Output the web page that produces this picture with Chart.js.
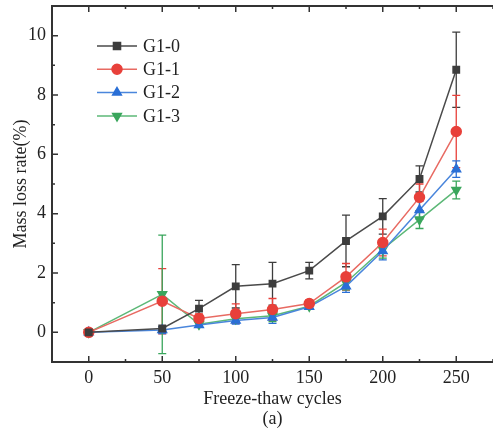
<!DOCTYPE html>
<html>
<head>
<meta charset="utf-8">
<script src="https://cdn.jsdelivr.net/npm/chart.js@4.4.1/dist/chart.umd.min.js"></script>
<style>
  html, body { margin: 0; padding: 0; background: #fff; }
  #wrap { width: 493px; height: 437px; }
</style>
</head>
<body>
<div id="wrap"><canvas id="chart"></canvas></div>
<script>
// cycles
const cycles = [0, 50, 75, 100, 125, 150, 175, 200, 225, 250];

// mass loss rate (%) and error
const g10 = [0, 0.13, 0.8, 1.55, 1.64, 2.08, 3.08, 3.91, 5.17, 8.85];
const g10Err = [0.02, 0.05, 0.28, 0.73, 0.72, 0.28, 0.87, 0.6, 0.44, 1.27];
const g11 = [0, 1.05, 0.47, 0.63, 0.77, 0.97, 1.87, 3.03, 4.55, 6.77];
const g11Err = [0.02, 1.1, 0.15, 0.33, 0.37, 0.12, 0.45, 0.45, 0.45, 1.22];
const g12 = [0, 0.08, 0.25, 0.4, 0.5, 0.86, 1.55, 2.74, 4.12, 5.5];
const g12Err = [0.02, 0.12, 0.08, 0.12, 0.2, 0.08, 0.2, 0.3, 0.3, 0.28];
const g13 = [0, 1.28, 0.27, 0.46, 0.56, 0.88, 1.68, 2.8, 3.8, 4.8];
const g13Err = [0.02, 2.0, 0.1, 0.12, 0.2, 0.08, 0.25, 0.3, 0.3, 0.3];

const xTicks = [0, 50, 100, 150, 200, 250];
const xMinor = [-25, 25, 75, 125, 175, 225, 275];
const yTicks = [0, 2, 4, 6, 8, 10];
const yMinor = [1, 3, 5, 7, 9];

const seriesNames = ["G1-0", "G1-1", "G1-2", "G1-3"];
const colors = ["#3d3d3d", "#e8403a", "#2a6fd6", "#3aa65c"];
const lineColors = ["#4a4a4a", "#e86a62", "#4a86dc", "#5cb877"];
const shapes = ["rect", "circle", "triangle", "triangle"];
const rotations = [0, 0, 0, 180];
const values = [g10, g11, g12, g13];
const errors = [g10Err, g11Err, g12Err, g13Err];

const serif = "'Liberation Serif', 'DejaVu Serif', serif";

// error bars from scales
const errorBars = {
  id: "errorBars",
  beforeDatasetsDraw(chart) {
    const ctx = chart.ctx;
    const xs = chart.scales.x;
    const ys = chart.scales.y;
    ctx.save();
    chart.data.datasets.forEach((ds, i) => {
      const err = errors[i];
      ctx.strokeStyle = colors[i];
      ctx.lineWidth = 1.3;
      ds.data.forEach((p, j) => {
        if (err[j] < 0.05) return;
        const px = xs.getPixelForValue(p.x);
        const top = ys.getPixelForValue(p.y + err[j]);
        const bot = ys.getPixelForValue(p.y - err[j]);
        ctx.beginPath();
        ctx.moveTo(px, top); ctx.lineTo(px, bot);
        ctx.moveTo(px - 4, top); ctx.lineTo(px + 4, top);
        ctx.moveTo(px - 4, bot); ctx.lineTo(px + 4, bot);
        ctx.stroke();
      });
    });
    ctx.restore();
  },
};

// frame and inward ticks
const frame = {
  id: "frame",
  afterDraw(chart) {
    const ctx = chart.ctx;
    const a = chart.chartArea;
    const xs = chart.scales.x;
    const ys = chart.scales.y;
    ctx.save();
    ctx.strokeStyle = "#333";
    ctx.lineWidth = 2;
    ctx.beginPath();
    ctx.moveTo(a.right + 2, a.top);
    ctx.lineTo(a.left, a.top);
    ctx.lineTo(a.left, a.bottom);
    ctx.lineTo(a.right + 2, a.bottom);
    ctx.stroke();
    ctx.lineWidth = 1.5;
    ctx.beginPath();
    xTicks.forEach((v) => {
      const px = xs.getPixelForValue(v);
      ctx.moveTo(px, a.bottom); ctx.lineTo(px, a.bottom - 6);
      ctx.moveTo(px, a.top); ctx.lineTo(px, a.top + 6);
    });
    xMinor.forEach((v) => {
      const px = xs.getPixelForValue(v);
      ctx.moveTo(px, a.bottom); ctx.lineTo(px, a.bottom - 3);
      ctx.moveTo(px, a.top); ctx.lineTo(px, a.top + 3);
    });
    yTicks.forEach((v) => {
      const py = ys.getPixelForValue(v);
      ctx.moveTo(a.left, py); ctx.lineTo(a.left + 6, py);
    });
    yMinor.forEach((v) => {
      const py = ys.getPixelForValue(v);
      ctx.moveTo(a.left, py); ctx.lineTo(a.left + 3, py);
    });
    ctx.stroke();
    ctx.restore();
  },
};

// legend with line + marker
const lineLegend = {
  id: "lineLegend",
  afterDraw(chart) {
    const ctx = chart.ctx;
    ctx.save();
    ctx.font = "18px " + serif;
    ctx.textBaseline = "middle";
    seriesNames.forEach((name, i) => {
      const y = 46 + i * 23.3;
      ctx.strokeStyle = lineColors[i];
      ctx.lineWidth = 1.5;
      ctx.beginPath();
      ctx.moveTo(97, y); ctx.lineTo(137, y);
      ctx.stroke();
      ctx.fillStyle = colors[i];
      ctx.strokeStyle = colors[i];
      Chart.helpers.drawPoint(ctx, {
        pointStyle: shapes[i], radius: 5, rotation: rotations[i], borderWidth: 1,
      }, 117, y);
      ctx.fillStyle = "#222";
      ctx.fillText(name, 143, y + 1);
    });
    ctx.restore();
  },
};

const datasets = seriesNames.map((name, i) => ({
  label: name,
  data: cycles.map((c, j) => ({ x: c, y: values[i][j] })),
  borderColor: lineColors[i],
  backgroundColor: colors[i],
  pointBackgroundColor: colors[i],
  pointBorderColor: colors[i],
  pointStyle: shapes[i],
  pointRotation: rotations[i],
  pointRadius: shapes[i] === "rect" ? 4.5 : 5,
  borderWidth: 1.5,
  tension: 0,
  clip: false,
}));

new Chart(document.getElementById("chart"), {
  type: "line",
  data: { datasets: datasets },
  options: {
    responsive: true,
    maintainAspectRatio: false,
    animation: false,
    layout: {
      autoPadding: false,
      padding: { top: 6, right: 0, left: 0, bottom: 0 },
    },
    plugins: {
      legend: { display: false },
      tooltip: { enabled: false },
    },
    scales: {
      x: {
        type: "linear",
        min: -25,
        max: 275,
        grid: { display: false, drawTicks: false },
        border: { display: false },
        afterBuildTicks: (s) => { s.ticks = xTicks.map((v) => ({ value: v })); },
        afterFit: (s) => {
          s.height = 75;
          s.paddingLeft = 0;
          s.paddingRight = 0;
        },
        ticks: {
          padding: 5,
          color: "#222",
          font: { family: serif, size: 18 },
        },
        title: {
          display: true,
          text: ["Freeze-thaw cycles", "(a)"],
          color: "#222",
          padding: { top: 0, bottom: 8 },
          font: { family: serif, size: 18, lineHeight: 1.1 },
        },
      },
      y: {
        min: -1,
        max: 11,
        grid: { display: false, drawTicks: false },
        border: { display: false },
        afterBuildTicks: (s) => { s.ticks = yTicks.map((v) => ({ value: v })); },
        afterFit: (s) => {
          s.width = 52;
          s.paddingTop = 0;
          s.paddingBottom = 0;
        },
        ticks: {
          padding: 6,
          color: "#222",
          font: { family: serif, size: 18 },
        },
        title: {
          display: true,
          text: "Mass loss rate(%)",
          color: "#222",
          padding: { top: 10, bottom: 0 },
          font: { family: serif, size: 18 },
        },
      },
    },
  },
  plugins: [errorBars, frame, lineLegend],
});
</script>
</body>
</html>
